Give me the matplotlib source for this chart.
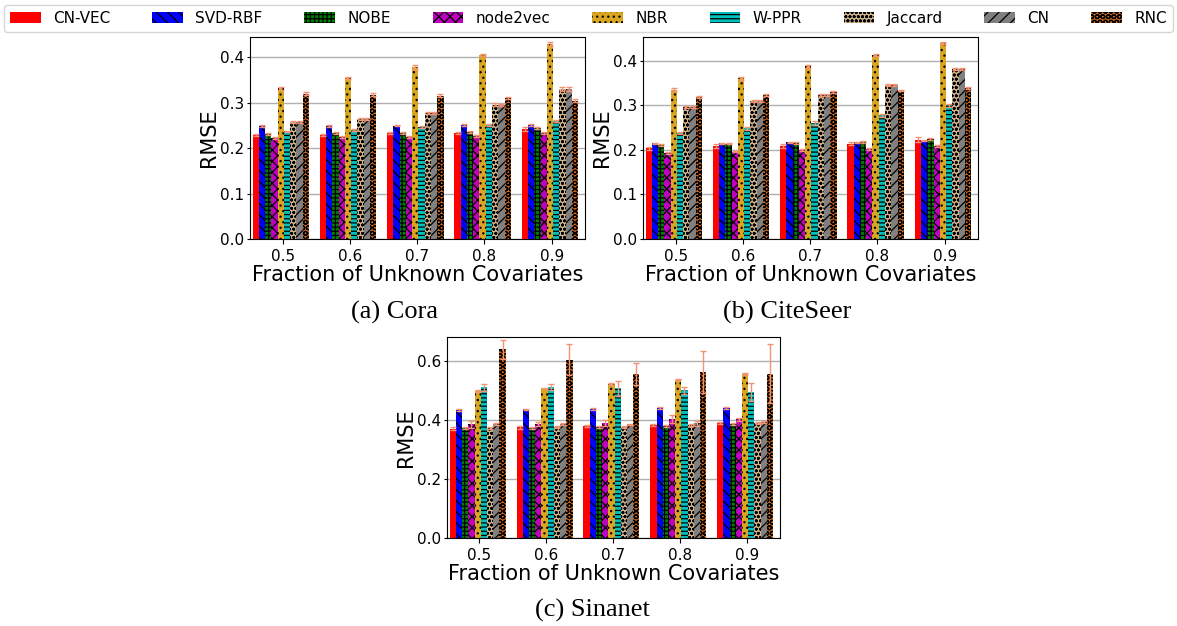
import numpy as np
import matplotlib as mpl
mpl.rc('hatch', linewidth=0.9, color='black')
mpl.rc('xtick', labelsize=11)
mpl.rc('ytick', labelsize=11)
mpl.rc('ytick.major', size=2.5, pad=1.5)
mpl.rc('axes', labelsize=15)
import matplotlib.pyplot as plt


methods = ['CN-VEC', 'SVD-RBF', 'NOBE', 'node2vec', 'NBR', 'W-PPR',
           'Jaccard', 'CN', 'RNC']
colours = ['red', 'blue', 'green', 'm', 'goldenrod', 'c', 'tan', 'gray',
           'chocolate']
hatches = ['', '\\\\\\', '++++', 'xxx', '...', '----', 'oooo', '///', 'OOO']
fractions = ['0.5', '0.6', '0.7', '0.8', '0.9']

# RMSE, one row per method, one column per fraction of unknown covariates
cora_mean = [[0.229, 0.230, 0.233, 0.234, 0.242],
             [0.249, 0.249, 0.250, 0.251, 0.251],
             [0.232, 0.233, 0.233, 0.236, 0.244],
             [0.223, 0.225, 0.225, 0.227, 0.233],
             [0.332, 0.355, 0.379, 0.406, 0.429],
             [0.237, 0.241, 0.247, 0.252, 0.260],
             [0.258, 0.264, 0.277, 0.296, 0.331],
             [0.257, 0.264, 0.277, 0.295, 0.331],
             [0.320, 0.318, 0.316, 0.311, 0.305]]
cora_err = [[0.002, 0.002, 0.002, 0.002, 0.004],
            [0.002, 0.002, 0.002, 0.002, 0.002],
            [0.002, 0.002, 0.002, 0.002, 0.002],
            [0.002, 0.002, 0.002, 0.002, 0.002],
            [0.003, 0.002, 0.004, 0.002, 0.004],
            [0.002, 0.002, 0.003, 0.002, 0.003],
            [0.002, 0.002, 0.002, 0.003, 0.004],
            [0.002, 0.002, 0.002, 0.003, 0.004],
            [0.003, 0.003, 0.003, 0.002, 0.003]]

citeseer_mean = [[0.203, 0.208, 0.208, 0.214, 0.223],
                 [0.215, 0.215, 0.217, 0.217, 0.220],
                 [0.211, 0.214, 0.215, 0.217, 0.224],
                 [0.193, 0.196, 0.200, 0.202, 0.209],
                 [0.335, 0.360, 0.387, 0.413, 0.440],
                 [0.238, 0.248, 0.260, 0.277, 0.300],
                 [0.296, 0.310, 0.323, 0.345, 0.381],
                 [0.296, 0.310, 0.323, 0.345, 0.381],
                 [0.318, 0.323, 0.329, 0.333, 0.339]]
citeseer_err = [[0.003, 0.005, 0.004, 0.003, 0.006],
                [0.001, 0.001, 0.001, 0.001, 0.001],
                [0.002, 0.002, 0.002, 0.002, 0.002],
                [0.003, 0.002, 0.002, 0.002, 0.002],
                [0.004, 0.003, 0.003, 0.002, 0.002],
                [0.003, 0.004, 0.004, 0.004, 0.003],
                [0.002, 0.002, 0.002, 0.002, 0.002],
                [0.002, 0.002, 0.002, 0.002, 0.002],
                [0.002, 0.002, 0.002, 0.002, 0.002]]

sinanet_mean = [[0.370, 0.375, 0.379, 0.382, 0.388],
                [0.433, 0.435, 0.436, 0.439, 0.440],
                [0.371, 0.373, 0.375, 0.379, 0.385],
                [0.385, 0.385, 0.388, 0.402, 0.401],
                [0.497, 0.507, 0.520, 0.536, 0.555],
                [0.510, 0.510, 0.506, 0.499, 0.494],
                [0.373, 0.376, 0.376, 0.381, 0.388],
                [0.385, 0.385, 0.384, 0.388, 0.392],
                [0.638, 0.603, 0.556, 0.561, 0.556]]
sinanet_err = [[0.005, 0.005, 0.003, 0.002, 0.003],
               [0.003, 0.003, 0.003, 0.003, 0.003],
               [0.004, 0.003, 0.004, 0.004, 0.003],
               [0.012, 0.006, 0.010, 0.013, 0.006],
               [0.003, 0.002, 0.003, 0.003, 0.003],
               [0.012, 0.010, 0.024, 0.013, 0.030],
               [0.003, 0.003, 0.003, 0.003, 0.003],
               [0.003, 0.004, 0.003, 0.008, 0.004],
               [0.031, 0.052, 0.037, 0.070, 0.100]]

fig = plt.figure(figsize=(11.77, 6.26), dpi=100)

# axes boxes [left, bottom, width, height] in figure fractions
panels = [(cora_mean, cora_err, [0.2124, 0.6182, 0.2846, 0.3227], 0.445,
           [0.0, 0.1, 0.2, 0.3, 0.4], '(a) Cora', 0.335, 0.4904),
          (citeseer_mean, citeseer_err, [0.5463, 0.6182, 0.2846, 0.3227],
           0.453, [0.0, 0.1, 0.2, 0.3, 0.4], '(b) CiteSeer', 0.669, 0.4904),
          (sinanet_mean, sinanet_err, [0.3798, 0.1406, 0.2829, 0.3211],
           0.68, [0.0, 0.2, 0.4, 0.6], '(c) Sinanet', 0.503, 0.0144)]

width = 0.093
ind = np.arange(len(fractions))

for mean, err, box, ytop, yticks, caption, cap_x, cap_y in panels:
    ax = fig.add_axes(box)
    for idx, method in enumerate(methods):
        ax.bar(ind + idx * width, mean[idx], width, align='edge',
               color=colours[idx], hatch=hatches[idx], edgecolor='black',
               linewidth=0, label=method)
        ax.errorbar(ind + (idx + 0.5) * width, mean[idx], yerr=err[idx],
                    fmt='none', ecolor='#f59273', elinewidth=1, capsize=2)
    ax.set_xticks(ind + 0.445)
    ax.set_xticklabels(fractions)
    ax.set_xlim(-0.04, 4.94)
    ax.set_ylim(0, ytop)
    ax.set_yticks(yticks)
    ax.yaxis.grid(True, color='#b0b0b0', linewidth=1)
    ax.set_axisbelow(True)
    ax.set_xlabel('Fraction of Unknown Covariates', labelpad=1)
    ax.set_ylabel('RMSE', labelpad=1)
    fig.text(cap_x, cap_y, caption, ha='center', va='baseline',
             family='Liberation Serif', fontsize=19)
    if caption.startswith('(a)'):
        handles, labels = ax.get_legend_handles_labels()

fig.legend(handles, labels, loc='upper center', ncol=9, fontsize=11,
           bbox_to_anchor=(0.5, 0.997), handlelength=2.0, columnspacing=2.75,
           borderaxespad=0.2)

fig.savefig('out.png', dpi=100)
plt.close(fig)
